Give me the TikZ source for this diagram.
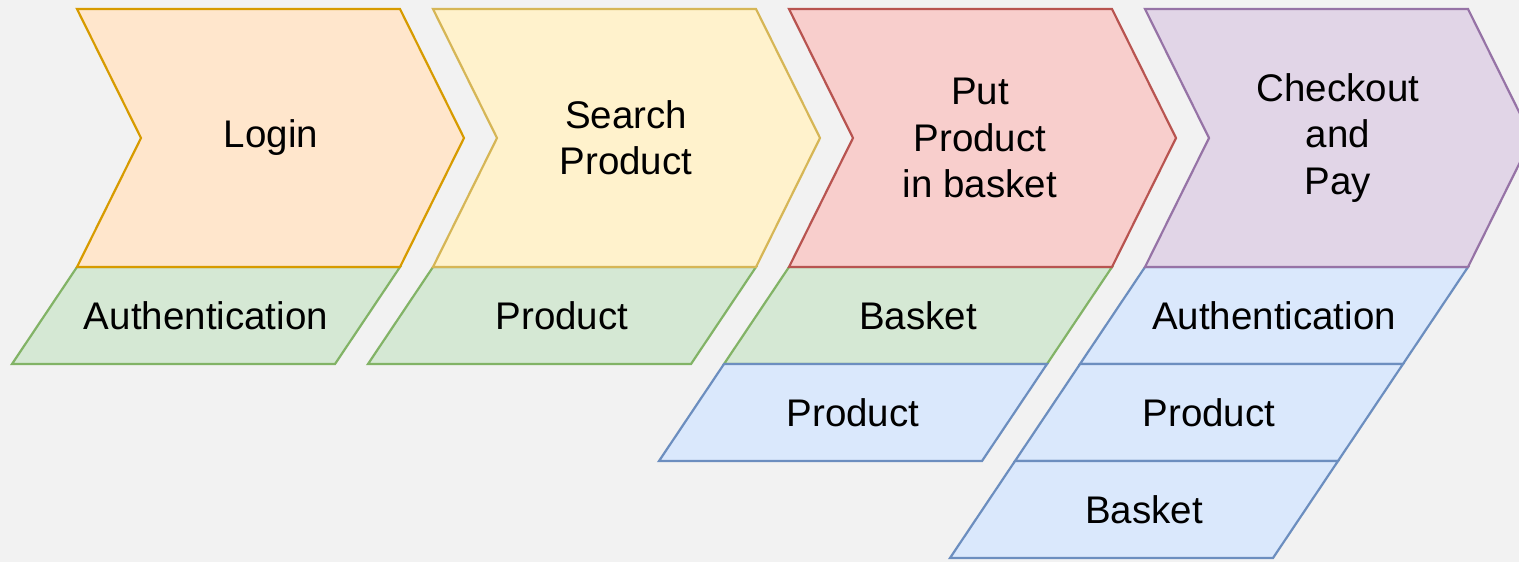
\documentclass[tikz,border=0pt]{standalone}
\usepackage{fontspec}
\setmainfont{Liberation Sans}
\usepackage{tikz}
\definecolor{bgGray}{HTML}{F2F2F2}
\definecolor{orangeFill}{HTML}{FFE6CC}
\definecolor{orangeLine}{HTML}{D79B00}
\definecolor{yellowFill}{HTML}{FFF2CC}
\definecolor{yellowLine}{HTML}{D6B656}
\definecolor{redFill}{HTML}{F8CECC}
\definecolor{redLine}{HTML}{B85450}
\definecolor{purpleFill}{HTML}{E1D5E7}
\definecolor{purpleLine}{HTML}{9673A6}
\definecolor{greenFill}{HTML}{D5E8D4}
\definecolor{greenLine}{HTML}{82B366}
\definecolor{blueFill}{HTML}{DAE8FC}
\definecolor{blueLine}{HTML}{6C8EBF}

\begin{document}
\begin{tikzpicture}[x=0.5pt, y=-0.5pt,
  shapeline/.style={line width=1.1pt},
  lbl/.style={font=\fontsize{19.25}{23.2}\selectfont, align=center, inner sep=0pt}]

  % ---- canvas ----
  \useasboundingbox (0,0) rectangle (1519,562);
  \fill[bgGray] (0,0) rectangle (1519,562);
  \clip (0,0) rectangle (1519,562);

  % ---- Login step ----
  \draw[shapeline, fill=greenFill, draw=greenLine] (77,267) -- (400,267) -- (335,364) -- (12,364) -- cycle;
  \node[lbl] (auth1) at (206,315.5) {Authentication};
  \draw[shapeline, fill=orangeFill, draw=orangeLine] (77,9) -- (400,9) -- (464,138) -- (400,267) -- (77,267) -- (141,138) -- cycle;
  \node[lbl] (login) at (271,138) {Login};

  % ---- Search Product step ----
  \draw[shapeline, fill=greenFill, draw=greenLine] (433,267) -- (756,267) -- (691,364) -- (368,364) -- cycle;
  \node[lbl] (prod2) at (562,315.5) {Product};
  \draw[shapeline, fill=yellowFill, draw=yellowLine] (433,9) -- (756,9) -- (820,138) -- (756,267) -- (433,267) -- (497,138) -- cycle;
  \node[lbl] (search) at (626,138) {Search\\Product};

  % ---- Put Product in basket step ----
  \draw[shapeline, fill=greenFill, draw=greenLine] (789,267) -- (1112,267) -- (1047,364) -- (724,364) -- cycle;
  \node[lbl] (bask3) at (918,315.5) {Basket};
  \draw[shapeline, fill=blueFill, draw=blueLine] (724,364) -- (1047,364) -- (982,461) -- (659,461) -- cycle;
  \node[lbl] (prod3) at (853,412.5) {Product};
  \draw[shapeline, fill=redFill, draw=redLine] (789,9) -- (1112,9) -- (1176,138) -- (1112,267) -- (789,267) -- (853,138) -- cycle;
  \node[lbl] (putbasket) at (980,138) {Put\\Product\\in basket};

  % ---- Checkout and Pay step ----
  \draw[shapeline, fill=blueFill, draw=blueLine] (1145,267) -- (1468,267) -- (1403,364) -- (1080,364) -- cycle;
  \node[lbl] (auth4) at (1274,315.5) {Authentication};
  \draw[shapeline, fill=blueFill, draw=blueLine] (1080,364) -- (1403,364) -- (1338,461) -- (1015,461) -- cycle;
  \node[lbl] (prod4) at (1209,412.5) {Product};
  \draw[shapeline, fill=blueFill, draw=blueLine] (1015,461) -- (1338,461) -- (1273,558) -- (950,558) -- cycle;
  \node[lbl] (bask4) at (1144,509.5) {Basket};
  \draw[shapeline, fill=purpleFill, draw=purpleLine] (1145,9) -- (1468,9) -- (1532,138) -- (1468,267) -- (1145,267) -- (1209,138) -- cycle;
  \node[lbl] (checkout) at (1338,138) {Checkout\\and\\Pay};

\end{tikzpicture}
\end{document}
